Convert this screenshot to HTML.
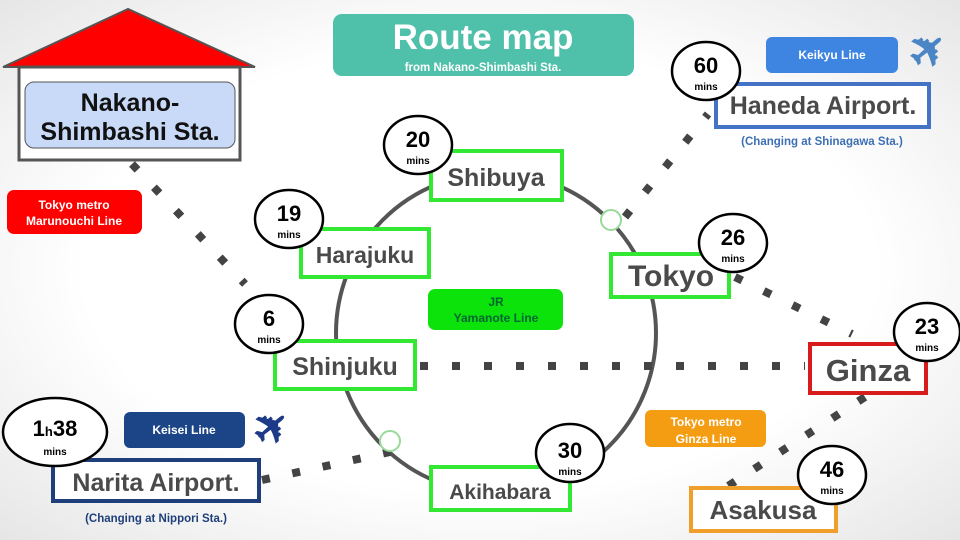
<!DOCTYPE html>
<html><head><meta charset="utf-8"><style>
html,body{margin:0;padding:0;width:960px;height:540px;overflow:hidden}
svg{display:block}
text{font-family:"Liberation Sans",sans-serif;font-weight:bold}
</style></head><body>
<svg width="960" height="540" viewBox="0 0 960 540" xmlns="http://www.w3.org/2000/svg">
<defs>
<radialGradient id="bg" cx="50%" cy="50%" r="75%">
<stop offset="0.55" stop-color="#ffffff"/><stop offset="1" stop-color="#e2e2e2"/>
</radialGradient>
</defs>
<rect width="960" height="540" fill="url(#bg)"/>

<circle cx="496" cy="333" r="160" fill="none" stroke="#555" stroke-width="4"/>

<g stroke="#444" stroke-width="8" fill="none">
<line x1="132" y1="164" x2="245" y2="284" stroke-dasharray="8 24"/>
<line x1="420" y1="366" x2="805" y2="366" stroke-dasharray="8 24"/>
<line x1="625" y1="217" x2="708" y2="114" stroke-dasharray="8 24"/>
<line x1="735" y1="277" x2="852" y2="334" stroke-dasharray="8 24"/>
<line x1="865" y1="397" x2="728" y2="486" stroke-dasharray="8 23"/>
<line x1="262" y1="480" x2="390" y2="452" stroke-dasharray="8 23"/>
</g>
<circle cx="611" cy="220" r="10" fill="#fff" stroke="#9ad99a" stroke-width="2"/>
<circle cx="390" cy="441" r="10" fill="#fff" stroke="#9ad99a" stroke-width="2"/>

<polygon points="3,67 128,9 255,67" fill="#f00" stroke="#555" stroke-width="2"/>
<rect x="19" y="67" width="221" height="93" fill="#fff" stroke="#555" stroke-width="3"/>
<rect x="25" y="82" width="210" height="66" rx="9" fill="#c9daf8" stroke="#555" stroke-width="1"/>
<text x="130" y="111" font-size="25" text-anchor="middle" fill="#111">Nakano-</text>
<text x="130" y="140" font-size="25" text-anchor="middle" fill="#111">Shimbashi Sta.</text>

<rect x="333" y="14" width="301" height="62" rx="9" fill="#4fc0a9"/>
<text x="483" y="49" font-size="35" text-anchor="middle" fill="#fff">Route map</text>
<text x="483" y="71" font-size="11.5" text-anchor="middle" fill="#fff">from Nakano-Shimbashi Sta.</text>

<rect x="7" y="190" width="135" height="44" rx="7" fill="#f00"/>
<text x="74" y="209" font-size="12" text-anchor="middle" fill="#fff">Tokyo metro</text>
<text x="74" y="225" font-size="12" text-anchor="middle" fill="#fff">Marunouchi Line</text>
<rect x="428" y="289" width="135" height="41" rx="7" fill="#0be30b"/>
<text x="496" y="306" font-size="12" text-anchor="middle" fill="#063">JR</text>
<text x="496" y="322" font-size="12" text-anchor="middle" fill="#063">Yamanote Line</text>
<rect x="766" y="37" width="132" height="36" rx="6" fill="#3d85e0"/>
<text x="832" y="59" font-size="12" text-anchor="middle" fill="#fff">Keikyu Line</text>
<rect x="124" y="412" width="121" height="36" rx="6" fill="#1c4587"/>
<text x="184" y="434" font-size="12" text-anchor="middle" fill="#fff">Keisei Line</text>
<rect x="645" y="410" width="121" height="37" rx="6" fill="#f59d12"/>
<text x="706" y="426" font-size="12" text-anchor="middle" fill="#fff">Tokyo metro</text>
<text x="706" y="443" font-size="12" text-anchor="middle" fill="#fff">Ginza Line</text>

<text x="0" y="0" font-size="46" fill="#4a86c5" font-family="DejaVu Sans" transform="translate(928,50) rotate(-40)" text-anchor="middle" dominant-baseline="central">✈</text>
<text x="0" y="0" font-size="44" fill="#1c3a87" font-family="DejaVu Sans" transform="translate(272,428) rotate(-40)" text-anchor="middle" dominant-baseline="central">✈</text>

<g fill="#fff" stroke-width="4">
<rect x="431" y="151" width="131" height="49" stroke="#33e833"/>
<rect x="301" y="229" width="128" height="48" stroke="#33e833"/>
<rect x="275" y="341" width="140" height="48" stroke="#33e833"/>
<rect x="611" y="254" width="118" height="43" stroke="#33e833"/>
<rect x="431" y="467" width="139" height="43" stroke="#33e833"/>
<rect x="810" y="344" width="116" height="49" stroke="#d81c1c"/>
<rect x="691" y="488" width="145" height="43" stroke="#f0a02a"/>
<rect x="716" y="84" width="213" height="43" stroke="#4472c4"/>
<rect x="53" y="460" width="206" height="41" stroke="#1f3f7a"/>
</g>
<g fill="#4a4a4a" text-anchor="middle">
<text x="496" y="186" font-size="25">Shibuya</text>
<text x="365" y="263" font-size="23">Harajuku</text>
<text x="345" y="375" font-size="25">Shinjuku</text>
<text x="671" y="286" font-size="30">Tokyo</text>
<text x="500" y="499" font-size="21">Akihabara</text>
<text x="868" y="381" font-size="31">Ginza</text>
<text x="763" y="519" font-size="26">Asakusa</text>
<text x="823" y="114" font-size="25">Haneda Airport.</text>
<text x="156" y="491" font-size="25">Narita Airport.</text>
</g>
<text x="822" y="145" font-size="11.5" text-anchor="middle" fill="#3d6fb5">(Changing at Shinagawa Sta.)</text>
<text x="156" y="522" font-size="11.5" text-anchor="middle" fill="#1f3f7a">(Changing at Nippori Sta.)</text>

<g fill="#fff" stroke="#000" stroke-width="2.5">
<ellipse cx="418" cy="145" rx="34" ry="29"/>
<ellipse cx="289" cy="219" rx="34" ry="29"/>
<ellipse cx="269" cy="324" rx="34" ry="29"/>
<ellipse cx="55" cy="432" rx="52" ry="34"/>
<ellipse cx="706" cy="71" rx="34" ry="29"/>
<ellipse cx="733" cy="243" rx="34" ry="29"/>
<ellipse cx="927" cy="332" rx="33" ry="29"/>
<ellipse cx="570" cy="453" rx="34" ry="29"/>
<ellipse cx="832" cy="475" rx="34" ry="29"/>
</g>
<g fill="#000" text-anchor="middle">
<text x="418" y="147" font-size="22">20</text><text x="418" y="164" font-size="10">mins</text>
<text x="289" y="221" font-size="22">19</text><text x="289" y="238" font-size="10">mins</text>
<text x="269" y="326" font-size="22">6</text><text x="269" y="343" font-size="10">mins</text>
<text x="55" y="436" font-size="22">1<tspan font-size="13">h</tspan>38</text><text x="55" y="455" font-size="10">mins</text>
<text x="706" y="73" font-size="22">60</text><text x="706" y="90" font-size="10">mins</text>
<text x="733" y="245" font-size="22">26</text><text x="733" y="262" font-size="10">mins</text>
<text x="927" y="334" font-size="22">23</text><text x="927" y="351" font-size="10">mins</text>
<text x="570" y="458" font-size="22">30</text><text x="570" y="475" font-size="10">mins</text>
<text x="832" y="477" font-size="22">46</text><text x="832" y="494" font-size="10">mins</text>
</g>
</svg>
</body></html>
